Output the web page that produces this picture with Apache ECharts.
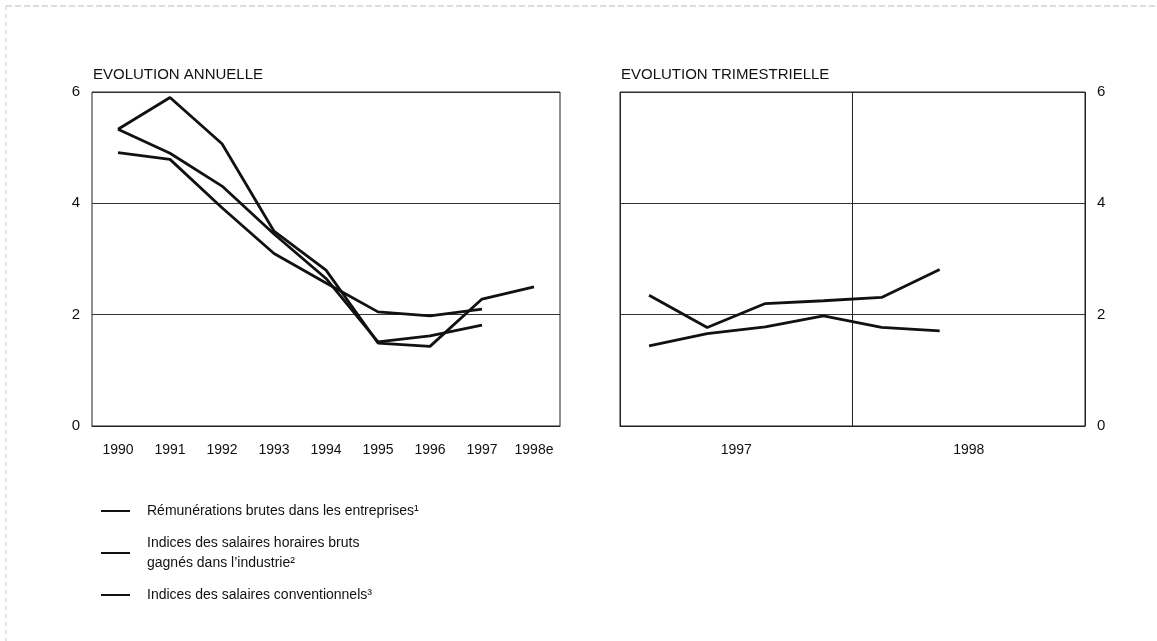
<!DOCTYPE html>
<html>
<head>
    <meta charset="utf-8">
    <script src="https://cdn.jsdelivr.net/npm/echarts@6/dist/echarts.min.js"></script>
    <style>
        html, body { margin: 0; padding: 0; background: #fff; }
    </style>
</head>
<body>
    <div id="main" style="width: 1157px;height:641px"></div>

    <script type="text/javascript">
        // evolution annuelle
        var years = ['1990', '1991', '1992', '1993', '1994', '1995', '1996', '1997', '1998e'];
        var remunerations = [5.33, 5.90, 5.07, 3.50, 2.80, 1.49, 1.43, 2.28, 2.50];
        var horairesAnnuel = [5.33, 4.90, 4.31, 3.45, 2.65, 1.51, 1.62, 1.81, null];
        var conventionnelsAnnuel = [4.91, 4.79, 3.92, 3.10, 2.57, 2.05, 1.98, 2.10, null];

        // evolution trimestrielle
        var quarters = ['97T1', '97T2', '97T3', '97T4', '98T1', '98T2', '98T3', '98T4'];
        var quarterYears = ['1997', '1998'];
        var horairesTrim = [1.44, 1.66, 1.78, 1.98, 1.77, 1.71, null, null];
        var conventionnelsTrim = [2.35, 1.77, 2.20, 2.25, 2.31, 2.81, null, null];

        var yTicks = [0, 2, 4, 6];

        var names = [
            'Rémunérations brutes dans les entreprises\u00b9',
            'Indices des salaires horaires bruts\ngagnés dans l\u2019industrie\u00b2',
            'Indices des salaires conventionnels\u00b3'
        ];

        var font = 'Liberation Sans';
        var black = '#111';

        var myChart = echarts.init(document.getElementById('main'));

        var lineSerie = function (name, data, xi, yi) {
            return {
                name: name,
                type: 'line',
                xAxisIndex: xi,
                yAxisIndex: yi,
                data: data,
                symbol: 'none',
                silent: true,
                lineStyle: { color: black, width: 2.8 },
                itemStyle: { color: black }
            };
        };

        var yAxisOf = function (grid, pos) {
            return {
                type: 'value',
                gridIndex: grid,
                position: pos,
                min: yTicks[0],
                max: yTicks[yTicks.length - 1],
                interval: 2,
                axisLine: { show: false },
                axisTick: { show: false },
                axisLabel: { color: black, fontFamily: font, fontSize: 15, margin: 12 },
                splitLine: { show: true, lineStyle: { color: '#333', width: 1 } }
            };
        };

        var option = {
            animation: false,
            backgroundColor: '#fff',
            grid: [
                { left: 92, top: 92, width: 468, height: 334, show: true, borderColor: '#222', borderWidth: 1 },
                { left: 620, top: 92, width: 465, height: 334, show: true, borderColor: '#222', borderWidth: 1 }
            ],
            title: [
                { text: 'EVOLUTION ANNUELLE', left: 88, top: 62,
                  textStyle: { fontFamily: font, fontSize: 15, fontWeight: 'normal', color: black } },
                { text: 'EVOLUTION TRIMESTRIELLE', left: 616, top: 62,
                  textStyle: { fontFamily: font, fontSize: 15, fontWeight: 'normal', color: black } }
            ],
            legend: {
                orient: 'vertical',
                left: 96,
                top: 496,
                itemGap: 12,
                itemWidth: 29,
                itemHeight: 2,
                icon: 'rect',
                selectedMode: false,
                data: names,
                textStyle: { fontFamily: font, fontSize: 14, color: black, lineHeight: 20, padding: [0, 0, 0, 12] }
            },
            xAxis: [
                {
                    type: 'category', gridIndex: 0, data: years, boundaryGap: true,
                    axisLine: { lineStyle: { color: '#222' } },
                    axisTick: { inside: true, length: 7, lineStyle: { color: '#222' } },
                    axisLabel: { color: black, fontFamily: font, fontSize: 14, margin: 17, interval: 0 }
                },
                {
                    type: 'category', gridIndex: 1, data: quarters, boundaryGap: true,
                    axisLine: { lineStyle: { color: '#222' } },
                    axisTick: { inside: true, length: 7, lineStyle: { color: '#222' } },
                    axisLabel: { show: false }
                },
                {
                    type: 'category', gridIndex: 1, data: quarterYears, boundaryGap: true,
                    position: 'bottom',
                    axisLine: { show: false },
                    axisTick: { show: false },
                    axisLabel: { color: black, fontFamily: font, fontSize: 14, margin: 17 },
                    splitLine: { show: true, lineStyle: { color: '#222', width: 1 } }
                }
            ],
            yAxis: [
                yAxisOf(0, 'left'),
                yAxisOf(1, 'right')
            ],
            series: [
                lineSerie(names[0], remunerations, 0, 0),
                lineSerie(names[1], horairesAnnuel, 0, 0),
                lineSerie(names[2], conventionnelsAnnuel, 0, 0),
                lineSerie(names[1], horairesTrim, 1, 1),
                lineSerie(names[2], conventionnelsTrim, 1, 1)
            ],
            graphic: [
                { type: 'line', shape: { x1: 6, y1: 6, x2: 1157, y2: 6 }, silent: true,
                  style: { stroke: '#bbb', lineWidth: 1, lineDash: [6, 3] } },
                { type: 'line', shape: { x1: 6, y1: 6, x2: 6, y2: 641 }, silent: true,
                  style: { stroke: '#ccc', lineWidth: 1, lineDash: [4, 4] } }
            ]
        };

        myChart.setOption(option);
    </script>
</body>
</html>
